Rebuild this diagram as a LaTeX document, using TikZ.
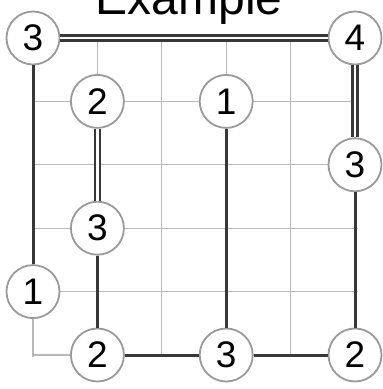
\documentclass[tikz,border=0pt]{standalone}
\usepackage{fontspec}
\setmainfont{Liberation Sans}
\definecolor{gridc}{HTML}{B8B8B8}
\definecolor{bridgec}{HTML}{383838}
\definecolor{ringc}{HTML}{9A9A9A}
\tikzset{
  isl/.style={circle, draw=ringc, line width=1.8pt, fill=white, minimum size=53pt, inner sep=0pt, font=\fontsize{37}{37}\selectfont},
  gridline/.style={draw=gridc, line width=1.1pt},
  bridge/.style={draw=bridgec, line width=3pt},
  dbridge/.style={draw=bridgec, line width=2.6pt, double=white, double distance=2.6pt},
}
\begin{document}
\begin{tikzpicture}[x=1pt,y=-1pt]
\useasboundingbox (0,0) rectangle (383,389);
\fill[white] (0,0) rectangle (383,389);
% grid
\foreach \i in {0,...,5} {
  \draw[gridline] ({33+64.4*\i},38) -- ({33+64.4*\i},357);
  \draw[gridline] (33,{38+63.4*\i}) -- (358,{38+63.4*\i});
}
% title
\node[anchor=base, font=\fontsize{48}{48}\selectfont, inner sep=0pt] (title) at (189,14) {Example};
% islands
\node[isl] (a) at (33,38) {3};
\node[isl] (b) at (355,38) {4};
\node[isl] (c) at (97.4,101.4) {2};
\node[isl] (d) at (226.2,101.4) {1};
\node[isl] (e) at (355,164.8) {3};
\node[isl] (f) at (97.4,228.2) {3};
\node[isl] (g) at (33,291.6) {1};
\node[isl] (h) at (97.4,355) {2};
\node[isl] (i) at (226.2,355) {3};
\node[isl] (j) at (355,355) {2};
% bridges
\draw[dbridge] (a) -- (b);
\draw[dbridge] (b) -- (e);
\draw[dbridge] (c) -- (f);
\draw[bridge] (a) -- (g);
\draw[bridge] (f) -- (h);
\draw[bridge] (d) -- (i);
\draw[bridge] (h) -- (i);
\draw[bridge] (i) -- (j);
\draw[bridge] (e) -- (j);
\end{tikzpicture}
\end{document}
